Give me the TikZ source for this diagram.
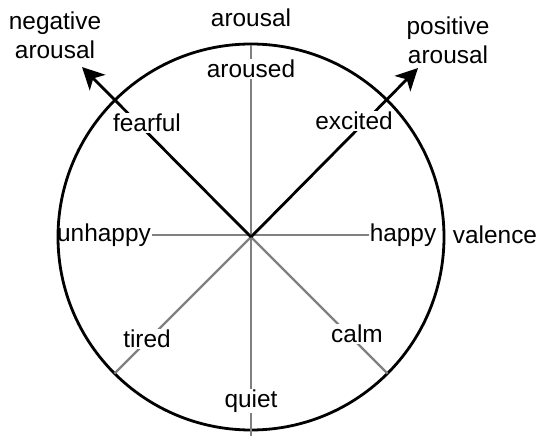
\documentclass[tikz,border=0pt]{standalone}
\usepackage{fontspec}
\setmainfont{Liberation Sans}
\usetikzlibrary{arrows.meta}
\begin{document}
\begin{tikzpicture}[x=1bp,y=-1bp,
  txt/.style={font=\fontsize{24.5}{29}\selectfont, inner sep=1bp},
  lbl/.style={txt, fill=white},
  plain/.style={txt, align=center},
  axis/.style={draw=black!50, line width=2.2bp},
  rim/.style={draw=black, line width=2.8bp},
  dir/.style={draw=black, line width=2.8bp, -{Stealth[length=22bp,width=22bp,inset=6bp]}}]
\useasboundingbox (0,0) rectangle (536,436);
\coordinate (O) at (251,237);
\coordinate (top) at (251,45);
\coordinate (bot) at (251,436);
\coordinate (sw) at (114.5,373.5);
\coordinate (se) at (387.5,373.5);
\coordinate (nw) at (82,67);
\coordinate (ne) at (418,68);
\draw[rim] (O) circle[radius=193];
% end labels of the horizontal axis
\node[txt] (unhappy) at (104,235) {unhappy};
\node[txt] (happy) at (403,235) {happy};
% axes
\draw[axis] (top) -- (bot);
\draw[axis] (unhappy.east) -- (happy.west);
\draw[axis] (O) -- (sw);
\draw[axis] (O) -- (se);
\draw[dir] (O) -- (nw);
\draw[dir] (O) -- (ne);
% labels on lines
\node[lbl] (aroused) at (251,69) {aroused};
\node[lbl] (quiet) at (251,401) {quiet};
\node[lbl] (fearful) at (147,123) {fearful};
\node[lbl] (excited) at (354,121) {excited};
\node[lbl] (tired) at (147,339) {tired};
\node[lbl] (calm) at (357,334) {calm};
% outside labels
\node[plain] (arousal) at (251,18) {arousal};
\node[plain] (valence) at (495,235) {valence};
\node[plain] (neg) at (55,35) {negative\\arousal};
\node[plain] (pos) at (448,40) {positive\\arousal};
\end{tikzpicture}
\end{document}
